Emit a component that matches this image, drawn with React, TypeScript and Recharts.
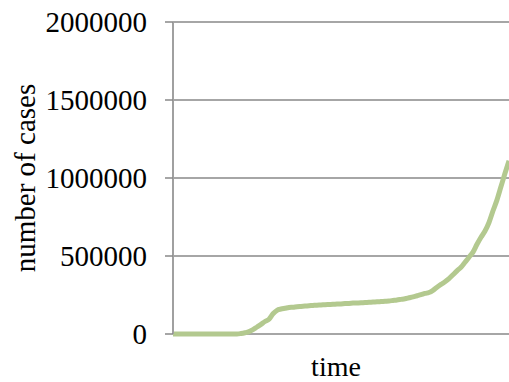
import { CartesianGrid, Label, Line, LineChart, XAxis, YAxis } from 'recharts'

// cumulative case counts, one value per day
const DAYS = Array.from({ length: 85 }, (_, i) => i)
const CASES = [
  0, 0, 0, 0, 0, 0, 0, 0, 0, 0,
  0, 0, 0, 0, 0, 0, 0, 3000, 8000, 15000,
  28000, 45000, 62000, 80000, 95000, 130000, 152000, 160000, 165000, 170000,
  172000, 175000, 177000, 179000, 181000, 183000, 185000, 186000, 188000, 189000,
  190000, 192000, 193000, 195000, 196000, 198000, 199000, 200000, 202000, 203000,
  205000, 206000, 208000, 210000, 212000, 215000, 218000, 222000, 226000, 232000,
  238000, 245000, 252000, 260000, 266000, 280000, 300000, 318000, 335000, 355000,
  380000, 405000, 428000, 460000, 492000, 525000, 575000, 620000, 660000, 715000,
  790000, 860000, 945000, 1030000, 1110000,
]
const Y_TICKS = [0, 500000, 1000000, 1500000, 2000000]

const FONT = "'Liberation Serif', 'Times New Roman', serif"
const data = DAYS.map((d, i) => ({ day: d, cases: CASES[i] }))

export default function App() {
  return (
    <div style={{ position: 'absolute', left: 0, top: 0, width: 509, height: 382, overflow: 'hidden', background: '#fff' }}>
      <LineChart width={509} height={382} data={data} margin={{ top: 22, right: 0, bottom: 0, left: 0 }}>
        <CartesianGrid vertical={false} stroke="#898989" strokeWidth={1.5} />
        <XAxis dataKey="day" type="number" domain={[0, 84]} height={48} tick={false} tickLine={false} axisLine={false}>
          <Label
            content={({ viewBox }: any) => (
              <text x={viewBox.x + viewBox.width / 2 - 5} y={viewBox.y + 32} textAnchor="middle" dominantBaseline="central"
                style={{ fontFamily: FONT, fontSize: 28 }} fill="#000">time</text>
            )}
          />
        </XAxis>
        <YAxis
          width={173}
          domain={[0, 2000000]}
          ticks={Y_TICKS}
          interval={0}
          tickSize={8}
          tickMargin={18}
          tick={{ fontFamily: FONT, fontSize: 29, fill: '#000' }}
          tickLine={{ stroke: '#898989', strokeWidth: 1.5 }}
          axisLine={{ stroke: '#a0a0a0', strokeWidth: 2 }}
        >
          <Label
            content={({ viewBox }: any) => {
              const x = viewBox.x + 25
              const y = viewBox.y + viewBox.height / 2
              return (
                <text x={x} y={y} transform={`rotate(-90, ${x}, ${y})`} textAnchor="middle" dominantBaseline="central"
                  style={{ fontFamily: FONT, fontSize: 29 }} fill="#000">number of cases</text>
              )
            }}
          />
        </YAxis>
        <Line type="monotone" dataKey="cases" stroke="#b3c98f" strokeWidth={5} dot={false} isAnimationActive={false} />
      </LineChart>
    </div>
  )
}
